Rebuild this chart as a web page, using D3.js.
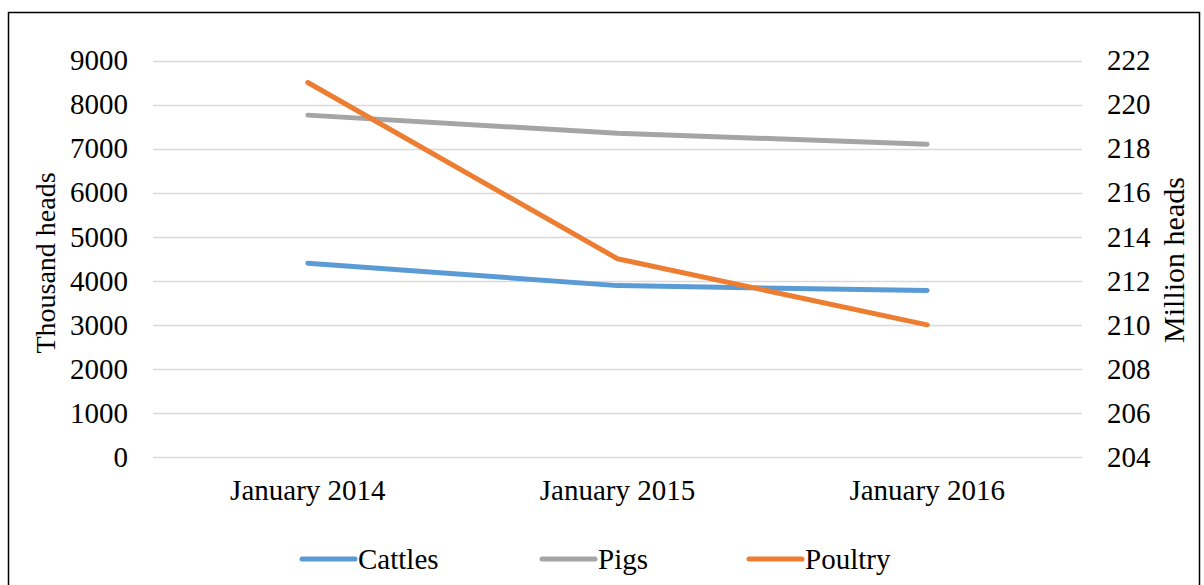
<!DOCTYPE html>
<html><head><meta charset="utf-8">
<script src="https://cdn.jsdelivr.net/npm/d3@7"></script>
<style>body{margin:0;background:#fff}svg{display:block}svg text{font-family:"Liberation Serif","Times New Roman",serif !important;fill:#000}</style>
</head><body><svg id="c" width="1204" height="585"></svg>
<script>
const categories = ["January 2014","January 2015","January 2016"];
const cattles = [4400, 3890, 3780];
const pigs = [7760, 7350, 7100];
const poultry = [221, 213, 210];
const leftTicks = [0,1000,2000,3000,4000,5000,6000,7000,8000,9000];
const rightTicks = [204,206,208,210,212,214,216,218,220,222];
const seriesNames = ["Cattles","Pigs","Poultry"];
const colors = ["#5B9BD5","#A5A5A5","#ED7D31"];

const svg = d3.select("#c");
svg.append("rect").attr("x",8.5).attr("y",12.5).attr("width",1191).attr("height",590)
  .attr("fill","none").attr("stroke","#000").attr("stroke-width",1.5);

const L=153, R=1082, T=60.5, B=457;
const x = d3.scaleBand().domain(categories).range([L,R]);
const yL = d3.scaleLinear().domain([0,9000]).range([B,T]);
const yR = d3.scaleLinear().domain([204,222]).range([B,T]);
const serif = "Liberation Serif";

// grid
svg.append("g").selectAll("line").data(leftTicks).join("line")
  .attr("x1",L).attr("x2",R).attr("y1",d=>Math.round(yL(d))+0.5).attr("y2",d=>Math.round(yL(d))+0.5)
  .attr("stroke","#d9d9d9").attr("stroke-width",1.3);

const fs = 29;
const styleAxis = g => { g.select(".domain").remove(); g.attr("font-family",serif);
  g.selectAll("text").style("font-size",fs+"px").style("font-family",serif).attr("fill","#000"); };
svg.append("g").attr("transform",`translate(${L},0)`)
  .call(d3.axisLeft(yL).tickValues(leftTicks).tickSize(0).tickPadding(25).tickFormat(d3.format("d"))).call(styleAxis);
svg.append("g").attr("transform",`translate(${R},0)`)
  .call(d3.axisRight(yR).tickValues(rightTicks).tickSize(0).tickPadding(25).tickFormat(d3.format("d"))).call(styleAxis);
svg.append("g").attr("transform",`translate(0,${B})`)
  .call(d3.axisBottom(x).tickSize(0).tickPadding(22)).call(styleAxis);

// axis titles
svg.append("text").attr("transform","translate(55,263) rotate(-90)").attr("text-anchor","middle")
  .style("font-family",serif).style("font-size","28px").text("Thousand heads");
svg.append("text").attr("transform","translate(1184,260) rotate(-90)").attr("text-anchor","middle")
  .style("font-family",serif).style("font-size","30px").text("Million heads");

// lines
const cx = d=>x(d)+x.bandwidth()/2;
const data = [
  {vals:cattles, scale:yL},
  {vals:pigs, scale:yL},
  {vals:poultry, scale:yR}
];
data.forEach((s,i)=>{
  const line = d3.line().x((v,j)=>cx(categories[j])).y(v=>s.scale(v));
  svg.append("path").attr("d",line(s.vals)).attr("fill","none")
    .attr("stroke",colors[i]).attr("stroke-width",5).attr("stroke-linecap","round").attr("stroke-linejoin","round");
});

// legend
const legX = [300,540,747];
seriesNames.forEach((n,i)=>{
  const g = svg.append("g").attr("transform",`translate(${legX[i]},559)`);
  g.append("line").attr("x1",2).attr("x2",55).attr("stroke",colors[i]).attr("stroke-width",5).attr("stroke-linecap","round");
  g.append("text").attr("x",58).attr("y",10).style("font-family",serif).style("font-size","29px").text(n);
});
</script></body></html>
